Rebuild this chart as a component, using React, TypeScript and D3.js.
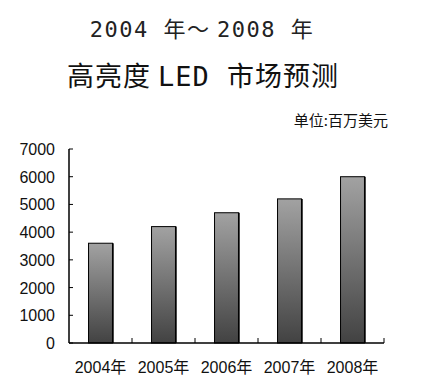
import React from "react";
import * as d3 from "d3";

// data (millions USD)
const years = ["2004年", "2005年", "2006年", "2007年", "2008年"];
const values = [3600, 4200, 4700, 5200, 6000];
const yTicks = [0, 1000, 2000, 3000, 4000, 5000, 6000, 7000];

const width = 438;
const height = 389;
const margin = { top: 149, right: 54, bottom: 46, left: 69 };

const cjk = "'Noto Sans CJK SC', sans-serif";
const mono = "'DejaVu Sans Mono', 'Liberation Mono', monospace";
const num = "'Liberation Sans Narrow', 'Liberation Sans', Arial, sans-serif";

export default function App() {
  const x = d3
    .scaleBand()
    .domain(years)
    .range([margin.left, width - margin.right])
    .paddingInner(0.62)
    .paddingOuter(0.31);

  const y = d3
    .scaleLinear()
    .domain([0, 7000])
    .range([height - margin.bottom, margin.top]);

  const y0 = y(0);
  const step = x.step();
  const left = margin.left;
  const right = width - margin.right;

  return (
    <svg
      width={width}
      height={height}
      style={{ position: "absolute", left: 0, top: 0, background: "#fff" }}
    >
      <defs>
        <linearGradient id="barFill" x1="0" y1="0" x2="0" y2="1">
          <stop offset="0%" stopColor="#a2a2a2" />
          <stop offset="100%" stopColor="#424242" />
        </linearGradient>
      </defs>

      {/* titles */}
      <text x={202} y={37} textAnchor="middle" fontSize={22} fill="#222" letterSpacing={1.5}>
        <tspan fontFamily={mono}>2004 </tspan>
        <tspan fontFamily={cjk}>年～ </tspan>
        <tspan fontFamily={mono}>2008 </tspan>
        <tspan fontFamily={cjk}>年</tspan>
      </text>
      <text x={203} y={86} textAnchor="middle" fontSize={27} fill="#111" letterSpacing={1}>
        <tspan fontFamily={cjk}>高亮度 </tspan>
        <tspan fontFamily={mono}>LED </tspan>
        <tspan fontFamily={cjk}>市场预测</tspan>
      </text>
      <text x={388} y={126} textAnchor="end" fontSize={15} fontFamily={cjk} fill="#111">
        单位:百万美元
      </text>

      {/* bars */}
      {values.map((v, i) => {
        const bx = x(years[i]) as number;
        const by = y(v);
        return (
          <g key={years[i]}>
            <rect
              x={bx}
              y={by}
              width={x.bandwidth()}
              height={y0 - by}
              fill="url(#barFill)"
              stroke="#000"
              strokeWidth={1}
            />
            <line x1={bx + x.bandwidth() + 0.5} x2={bx + x.bandwidth() + 0.5} y1={by} y2={y0} stroke="#000" strokeWidth={1.5} />
          </g>
        );
      })}

      {/* y axis */}
      <line x1={left} x2={left} y1={y(7000)} y2={y0} stroke="#000" strokeWidth={1.5} />
      {yTicks.map((t) => (
        <g key={t}>
          <line x1={left} x2={left + 4} y1={y(t)} y2={y(t)} stroke="#000" />
          <text
            x={55}
            y={y(t) + 6}
            textAnchor="end"
            fontSize={16}
            fontFamily={num}
            fill="#111"
          >
            {t}
          </text>
        </g>
      ))}

      {/* x axis */}
      <line x1={left} x2={right} y1={y0} y2={y0} stroke="#000" strokeWidth={1.5} />
      {years.map((yr, i) => (
        <g key={yr}>
          <line
            x1={left + step * (i + 1)}
            x2={left + step * (i + 1)}
            y1={y0}
            y2={y0 - 5}
            stroke="#000"
          />
          <text
            x={(x(yr) as number) + x.bandwidth() / 2}
            y={y0 + 30}
            textAnchor="middle"
            fontSize={16}
            fill="#111"
          >
            <tspan fontFamily={num}>{yr.slice(0, 4)}</tspan>
            <tspan fontFamily={cjk}>{yr.slice(4)}</tspan>
          </text>
        </g>
      ))}
    </svg>
  );
}
